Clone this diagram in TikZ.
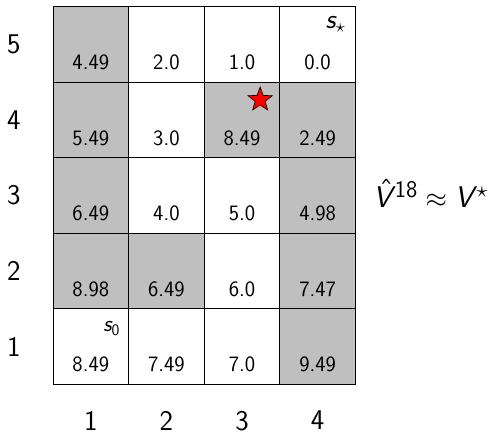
\documentclass[tikz,border=0pt]{standalone}
\usepackage{fontspec}
\usepackage{amsmath}
\usepackage{xcolor}
\usetikzlibrary{shapes.geometric, positioning}
\DeclareMathAlphabet{\mathsfit}{TU}{\sfdefault}{m}{it}
\DeclareSymbolFont{sfaccents}{OT1}{cmss}{m}{n}
\DeclareMathAccent{\sfhat}{\mathalpha}{sfaccents}{"5E}
\newcommand{\supsize}[1]{\mbox{\fontsize{18}{21}\selectfont #1}}

\begin{document}
\begin{tikzpicture}[node distance=0cm, every node/.style={font=\sffamily}]
    \useasboundingbox (-1.402,-1.262) rectangle (11.64,10.167);
    % Styles
    \tikzstyle{cell} = [rectangle, draw=black, line width=0.6pt, fill=white, minimum size=2cm, inner sep=0pt, outer sep=0pt, text height=1.67cm, text depth=0.33cm, font=\sffamily\fontsize{16.5}{19}\selectfont]
    \tikzstyle{shaded} = [cell, fill=black!25]
    \tikzstyle{axis} = [inner sep=0pt, font=\sffamily\fontsize{21.5}{25}\selectfont]
    \tikzstyle{tag} = [inner sep=0pt, anchor=north east]
    \tikzstyle{goal} = [star, star points=5, star point ratio=2.4, minimum size=0.67cm, inner sep=0pt, fill=red, draw=black, line width=0.5pt]

    % Row 5
    \node[shaded] (c15) at (1,9) {4.49};
    \node[cell, right=of c15] (c25) {2.0};
    \node[cell, right=of c25] (c35) {1.0};
    \node[cell, right=of c35] (c45) {0.0};
    % Row 4
    \node[shaded, below=of c15] (c14) {5.49};
    \node[cell, right=of c14] (c24) {3.0};
    \node[shaded, right=of c24] (c34) {8.49};
    \node[shaded, right=of c34] (c44) {2.49};
    % Row 3
    \node[shaded, below=of c14] (c13) {6.49};
    \node[cell, right=of c13] (c23) {4.0};
    \node[cell, right=of c23] (c33) {5.0};
    \node[shaded, right=of c33] (c43) {4.98};
    % Row 2
    \node[shaded, below=of c13] (c12) {8.98};
    \node[shaded, right=of c12] (c22) {6.49};
    \node[cell, right=of c22] (c32) {6.0};
    \node[shaded, right=of c32] (c42) {7.47};
    % Row 1
    \node[cell, below=of c12] (c11) {8.49};
    \node[cell, right=of c11] (c21) {7.49};
    \node[cell, right=of c21] (c31) {7.0};
    \node[shaded, right=of c31] (c41) {9.49};

    % Row and column numbers
    \node[axis, left=0.85cm of c15] (r5) {5};
    \node[axis, left=0.85cm of c14] (r4) {4};
    \node[axis, left=0.85cm of c13] (r3) {3};
    \node[axis, left=0.85cm of c12] (r2) {2};
    \node[axis, left=0.85cm of c11] (r1) {1};
    \node[axis, below=0.7cm of c11] (k1) {1};
    \node[axis, below=0.7cm of c21] (k2) {2};
    \node[axis, below=0.7cm of c31] (k3) {3};
    \node[axis, below=0.7cm of c41] (k4) {4};

    % Start, goal and star
    \node[tag, font=\sffamily\fontsize{20.74}{25}\selectfont] (sgoal) at ([shift={(-0.25,-0.25)}]c45.north east) {$\mathsfit{s}_\star$};
    \node[tag, font=\sffamily\fontsize{17.28}{21}\selectfont] (sstart) at ([shift={(-0.22,-0.34)}]c11.north east) {$\mathsfit{s}_{\mathsf{0}}$};
    \node[goal] (prize) at ([shift={(-0.52,-0.47)}]c34.north east) {};

    % Estimate
    \node[inner sep=0pt, right=0.46cm of c43, anchor=base west, yshift=-0.32cm, font=\sffamily\fontsize{22.5}{26}\selectfont] (vhat) {$\skew{5}{\sfhat}{\mathsfit{V}}\mkern2mu^{\supsize{18}} \approx \mathsfit{V}\mkern2mu^{\supsize{$\star$}}$};
\end{tikzpicture}
\end{document}
